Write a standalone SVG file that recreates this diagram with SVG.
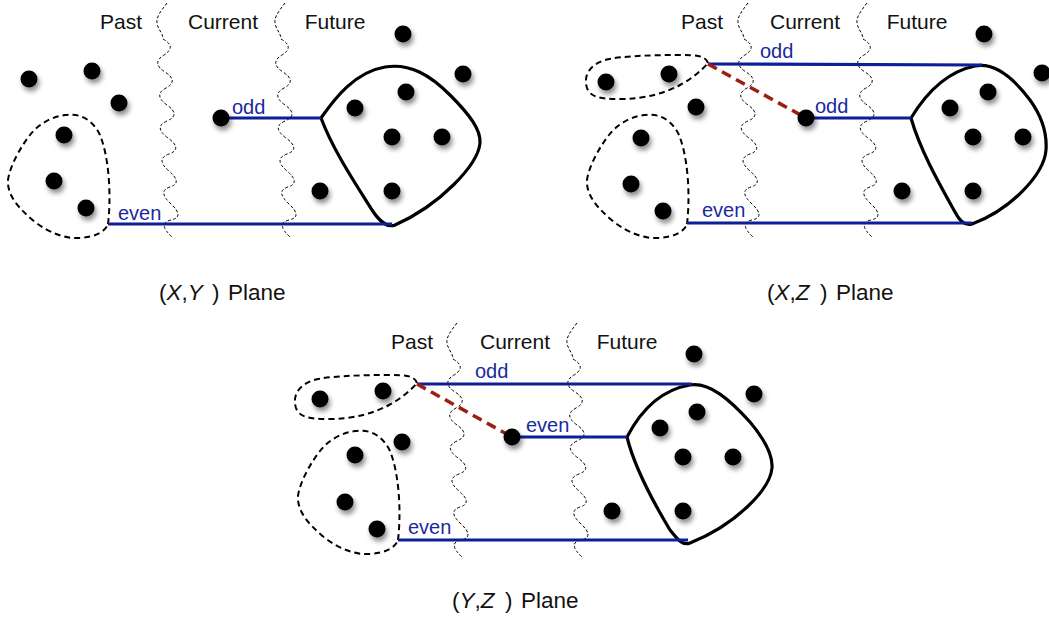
<svg xmlns="http://www.w3.org/2000/svg" xmlns:xlink="http://www.w3.org/1999/xlink" width="1049" height="620" viewBox="0 0 1049 620">
<style>
.hdr{font-family:"Liberation Sans",Arial,sans-serif;font-size:21px;fill:#111;text-anchor:middle}
.lbl{font-family:"Liberation Sans",Arial,sans-serif;font-size:20px;fill:#1a2a9c}
.pl{font-family:"Liberation Sans",Arial,sans-serif;font-size:22.5px;fill:#111}
.it{font-style:italic}
.dot{fill:#000;filter:url(#sh)}
.wave{fill:none;stroke:#000;stroke-width:1;stroke-dasharray:3 2}
.grp{fill:none;stroke:#000;stroke-width:2;stroke-dasharray:6 4}
.clu{fill:none;stroke:#000;stroke-width:3.2;stroke-linejoin:round}
.blue{stroke:#0c1f96;stroke-width:3.2;fill:none}
.red{stroke:#9a1f10;stroke-width:3.5;stroke-dasharray:10 6;fill:none}
</style>
<defs>
<filter id="sh" x="-60%" y="-60%" width="240%" height="240%">
<feDropShadow dx="2" dy="4" stdDeviation="2.5" flood-color="#000" flood-opacity="0.45"/>
</filter>
<path id="wv" d="M10,0 C4,8 -1,14 0,20 C1,27 6,30 6,36 Q20,44 7,52 T8,69 T9,85 T10,102 T10,118 T11,135 T12,151 T12,168 T13,184 T14,201 T14,217 T15,234"/>
<path id="gb" d="M108,224 C111,200 110,160 100,135 C92,118 78,113 65,115 C50,117 38,125 30,135 C22,145 10,165 8,180 C7,195 18,208 35,222 C50,233 65,239 80,238 C95,237 105,232 108,224 Z"/>
<path id="gt" d="M708,63 C705,55 695,55 680,55 C650,55 620,56 605,60 C590,65 583,75 587,88 C590,97 600,99 620,99 C645,99 665,93 680,85 C693,78 702,70 708,63 Z"/>
</defs>
<rect width="1049" height="620" fill="#fff"/>

<g id="dividers">
<use xlink:href="#wv" class="wave" transform="translate(157,3)"/>
<use xlink:href="#wv" class="wave" transform="translate(275,3)"/>
<use xlink:href="#wv" class="wave" transform="translate(738,3)"/>
<use xlink:href="#wv" class="wave" transform="translate(857,3)"/>
<use xlink:href="#wv" class="wave" transform="translate(447,323)"/>
<use xlink:href="#wv" class="wave" transform="translate(567,323)"/>
</g>

<g id="headers">
<text class="hdr" x="121" y="29">Past</text>
<text class="hdr" x="223" y="29">Current</text>
<text class="hdr" x="335" y="29">Future</text>
<text class="hdr" x="702" y="29">Past</text>
<text class="hdr" x="805" y="29">Current</text>
<text class="hdr" x="917" y="29">Future</text>
<text class="hdr" x="412" y="349">Past</text>
<text class="hdr" x="515" y="349">Current</text>
<text class="hdr" x="627" y="349">Future</text>
</g>

<g id="groups">
<use id="p1-past-group" xlink:href="#gb" class="grp"/>
<path id="p1-future-cluster" class="clu" d="M321,118 C335,98 355,72 385,67 C410,63 430,75 450,95 C470,115 481,130 480,143 C478,165 440,205 395,225 C387,228 380,222 372,210 C355,183 333,150 321,118 Z"/>
<use id="p2-past-group-top" xlink:href="#gt" class="grp"/>
<use id="p2-past-group" xlink:href="#gb" class="grp" transform="translate(579,0)"/>
<path id="p2-future-cluster" class="clu" d="M911,118 C925,95 945,72 975,66 C995,62 1015,80 1030,100 C1043,118 1047,135 1046,150 C1044,175 1010,210 972,224 C965,226 960,222 955,212 C940,185 920,150 911,118 Z"/>
<use id="p3-past-group-top" xlink:href="#gt" class="grp" transform="translate(-291,320)"/>
<use id="p3-past-group" xlink:href="#gb" class="grp" transform="translate(290,316)"/>
<path id="p3-future-cluster" class="clu" d="M627,437 C640,412 660,390 690,385 C710,382 730,400 750,422 C765,440 773,455 772,468 C770,490 735,525 690,543 C683,546 678,540 670,530 C655,505 635,470 627,437 Z"/>
</g>

<g id="connectors">
<line class="blue" x1="221" y1="118" x2="321" y2="118"/>
<line class="blue" x1="108" y1="224" x2="392" y2="224"/>
<line class="blue" x1="708" y1="64" x2="982" y2="65"/>
<line class="blue" x1="806" y1="118" x2="911" y2="118"/>
<line class="blue" x1="687" y1="223" x2="972" y2="223"/>
<line class="blue" x1="417" y1="384" x2="692" y2="384"/>
<line class="blue" x1="512" y1="437" x2="627" y2="437"/>
<line class="blue" x1="398" y1="540" x2="688" y2="540"/>
<line class="red" x1="708" y1="64" x2="806" y2="118"/>
<line class="red" x1="417" y1="384" x2="512" y2="437"/>
</g>

<g id="edge-labels">
<text class="lbl" x="232" y="114">odd</text>
<text class="lbl" x="118" y="220">even</text>
<text class="lbl" x="760" y="58">odd</text>
<text class="lbl" x="815" y="113">odd</text>
<text class="lbl" x="702" y="217">even</text>
<text class="lbl" x="475" y="378">odd</text>
<text class="lbl" x="526" y="432">even</text>
<text class="lbl" x="408" y="534">even</text>
</g>

<g id="dots1">
<circle class="dot" cx="29" cy="79" r="8.5"/><circle class="dot" cx="92" cy="71" r="8.5"/><circle class="dot" cx="119" cy="103" r="8.5"/>
<circle class="dot" cx="64" cy="135" r="8.5"/><circle class="dot" cx="54" cy="181" r="8.5"/><circle class="dot" cx="86" cy="208" r="8.5"/>
<circle class="dot" cx="221" cy="118" r="8.5"/><circle class="dot" cx="403" cy="34" r="8.5"/><circle class="dot" cx="463" cy="74" r="8.5"/>
<circle class="dot" cx="406" cy="92" r="8.5"/><circle class="dot" cx="355" cy="108" r="8.5"/><circle class="dot" cx="392" cy="137" r="8.5"/>
<circle class="dot" cx="442" cy="137" r="8.5"/><circle class="dot" cx="320" cy="191" r="8.5"/><circle class="dot" cx="392" cy="191" r="8.5"/>
</g>
<g id="dots2">
<circle class="dot" cx="606" cy="82" r="8.5"/><circle class="dot" cx="669" cy="74" r="8.5"/><circle class="dot" cx="696" cy="107" r="8.5"/>
<circle class="dot" cx="641" cy="138" r="8.5"/><circle class="dot" cx="631" cy="184" r="8.5"/><circle class="dot" cx="663" cy="211" r="8.5"/>
<circle class="dot" cx="806" cy="118" r="8.5"/><circle class="dot" cx="984" cy="34" r="8.5"/><circle class="dot" cx="1042" cy="73" r="8.5"/>
<circle class="dot" cx="988" cy="92" r="8.5"/><circle class="dot" cx="950" cy="108" r="8.5"/><circle class="dot" cx="973" cy="137" r="8.5"/>
<circle class="dot" cx="1023" cy="137" r="8.5"/><circle class="dot" cx="902" cy="191" r="8.5"/><circle class="dot" cx="973" cy="191" r="8.5"/>
</g>
<g id="dots3">
<circle class="dot" cx="320" cy="399" r="8.5"/><circle class="dot" cx="383" cy="391" r="8.5"/><circle class="dot" cx="402" cy="442" r="8.5"/>
<circle class="dot" cx="355" cy="455" r="8.5"/><circle class="dot" cx="345" cy="502" r="8.5"/><circle class="dot" cx="377" cy="529" r="8.5"/>
<circle class="dot" cx="512" cy="437" r="8.5"/><circle class="dot" cx="694" cy="354" r="8.5"/><circle class="dot" cx="754" cy="394" r="8.5"/>
<circle class="dot" cx="697" cy="412" r="8.5"/><circle class="dot" cx="660" cy="428" r="8.5"/><circle class="dot" cx="683" cy="457" r="8.5"/>
<circle class="dot" cx="733" cy="457" r="8.5"/><circle class="dot" cx="612" cy="511" r="8.5"/><circle class="dot" cx="683" cy="511" r="8.5"/>
</g>

<g id="plane-labels">
<text class="pl" x="159" y="300">(<tspan class="it">X</tspan>,<tspan class="it">Y</tspan><tspan x="212">)</tspan><tspan x="228">Plane</tspan></text>
<text class="pl" x="767" y="300">(<tspan class="it">X</tspan>,<tspan class="it">Z</tspan><tspan x="820">)</tspan><tspan x="836">Plane</tspan></text>
<text class="pl" x="452" y="608">(<tspan class="it">Y</tspan>,<tspan class="it">Z</tspan><tspan x="505">)</tspan><tspan x="521">Plane</tspan></text>
</g>
</svg>
